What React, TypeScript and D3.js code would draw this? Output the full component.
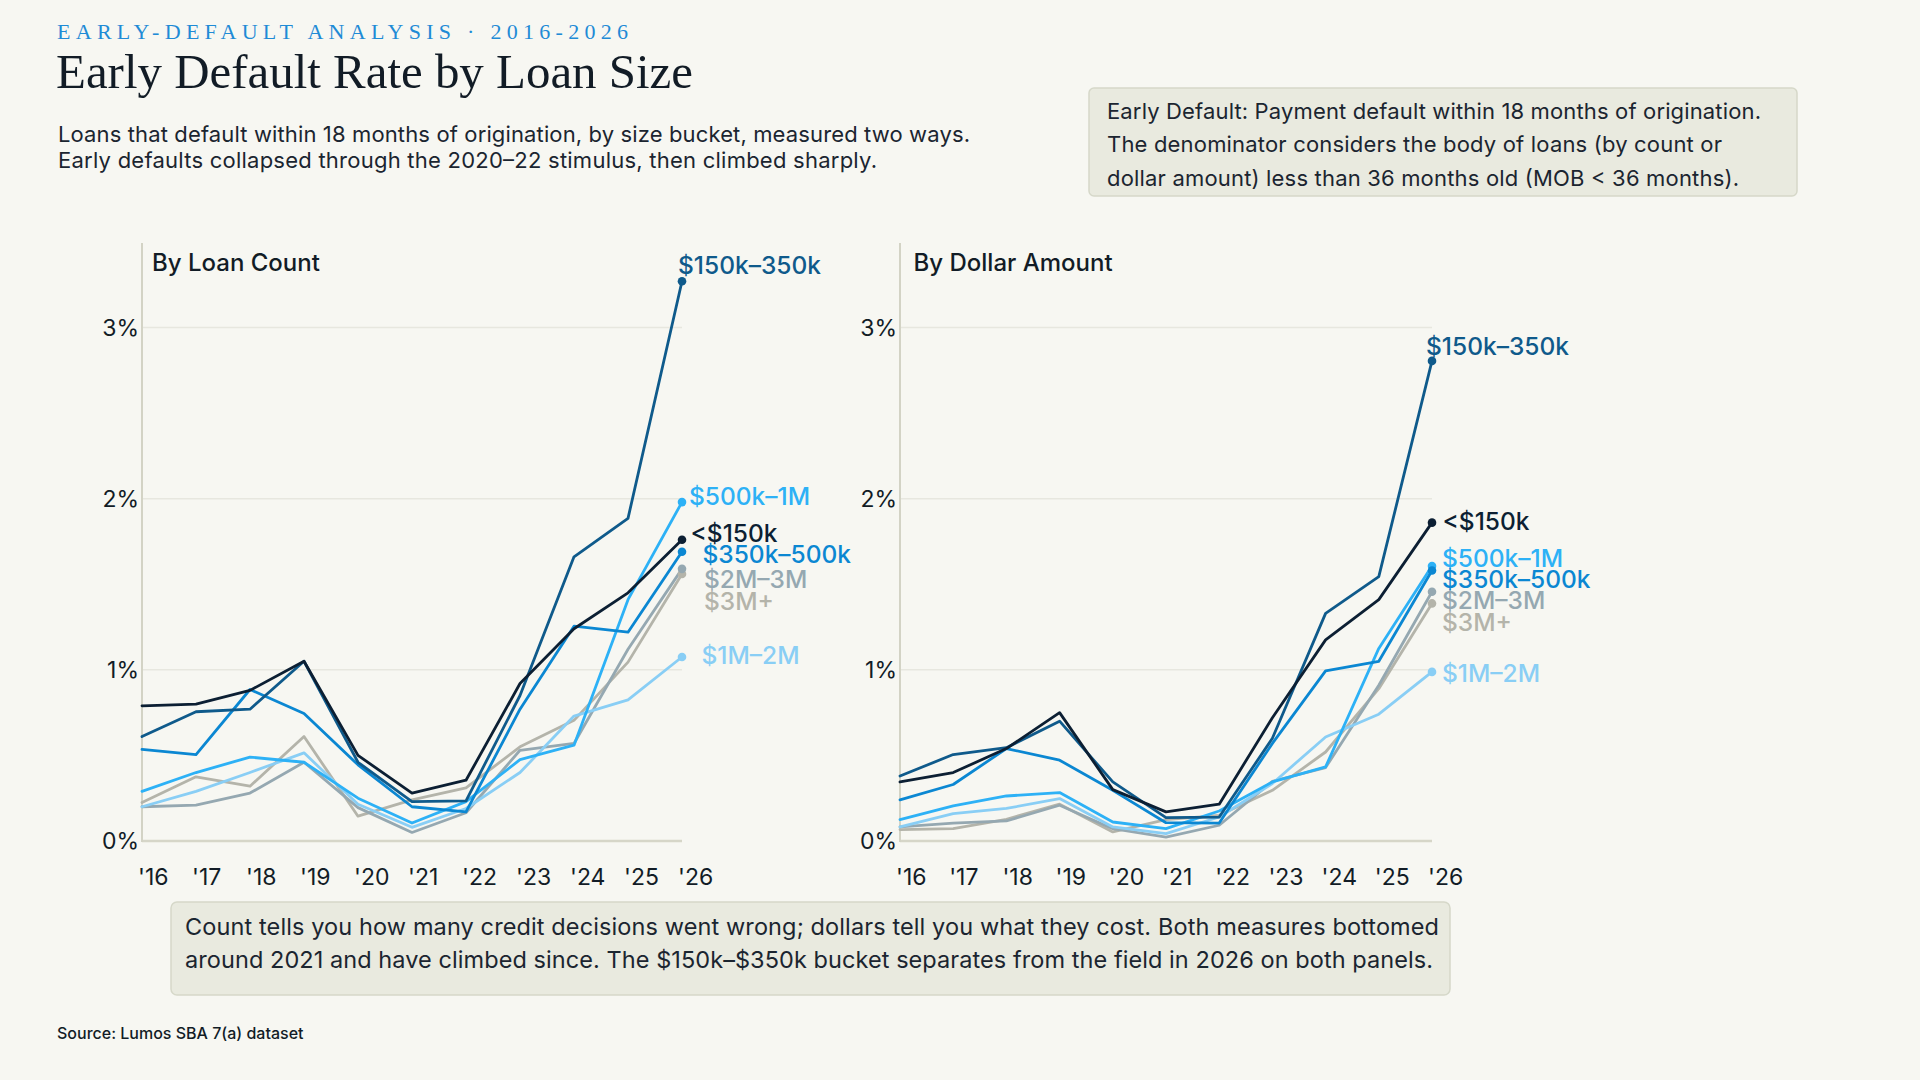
import React from 'react';
import * as d3 from 'd3';

// ---- data -------------------------------------------------------------
const years = [2016, 2017, 2018, 2019, 2020, 2021, 2022, 2023, 2024, 2025, 2026];
const yearTickLabels = ["'16", "'17", "'18", "'19", "'20", "'21", "'22", "'23", "'24", "'25", "'26"];
const rateTicks = [0, 1, 2, 3];
const rateTickLabels = ['0%', '1%', '2%', '3%'];

const buckets = ['<$150k', '$150k–350k', '$350k–500k', '$500k–1M', '$1M–2M', '$2M–3M', '$3M+'];

// Early default rate (%), by loan count
const countUnder150k = [0.79, 0.8, 0.88, 1.05, 0.5, 0.28, 0.355, 0.92, 1.24, 1.45, 1.76];
const count150to350k = [0.61, 0.755, 0.77, 1.05, 0.46, 0.23, 0.235, 0.85, 1.66, 1.885, 3.27];
const count350to500k = [0.535, 0.505, 0.885, 0.745, 0.445, 0.2, 0.17, 0.77, 1.255, 1.22, 1.69];
const count500kTo1M = [0.29, 0.4, 0.49, 0.46, 0.25, 0.105, 0.23, 0.475, 0.56, 1.41, 1.98];
const count1to2M = [0.2, 0.29, 0.4, 0.515, 0.215, 0.08, 0.19, 0.4, 0.73, 0.825, 1.075];
const count2to3M = [0.2, 0.21, 0.28, 0.46, 0.195, 0.05, 0.165, 0.53, 0.57, 1.12, 1.59];
const count3MPlus = [0.225, 0.375, 0.32, 0.61, 0.145, 0.24, 0.31, 0.55, 0.705, 1.045, 1.56];

// Early default rate (%), by dollar amount
const dollarUnder150k = [0.345, 0.4, 0.54, 0.75, 0.3, 0.17, 0.215, 0.72, 1.175, 1.41, 1.86];
const dollar150to350k = [0.38, 0.505, 0.545, 0.7, 0.345, 0.137, 0.14, 0.6, 1.33, 1.545, 2.805];
const dollar350to500k = [0.24, 0.33, 0.54, 0.472, 0.296, 0.107, 0.105, 0.57, 0.994, 1.05, 1.58];
const dollar500kTo1M = [0.125, 0.205, 0.263, 0.283, 0.111, 0.072, 0.175, 0.345, 0.433, 1.125, 1.606];
const dollar1to2M = [0.082, 0.16, 0.19, 0.248, 0.082, 0.043, 0.14, 0.336, 0.608, 0.741, 0.988];
const dollar2to3M = [0.082, 0.105, 0.117, 0.209, 0.072, 0.023, 0.092, 0.349, 0.429, 0.91, 1.456];
const dollar3MPlus = [0.067, 0.072, 0.127, 0.215, 0.053, 0.125, 0.15, 0.296, 0.52, 0.89, 1.388];

const countSeries = [countUnder150k, count150to350k, count350to500k, count500kTo1M, count1to2M, count2to3M, count3MPlus];
const dollarSeries = [dollarUnder150k, dollar150to350k, dollar350to500k, dollar500kTo1M, dollar1to2M, dollar2to3M, dollar3MPlus];

// ---- styles -------------------------------------------------------------
const bucketColors: Record<string, string> = {
  '<$150k': '#0c1f33',
  '$150k–350k': '#0f5a8b',
  '$350k–500k': '#0b87d2',
  '$500k–1M': '#2db1f6',
  '$1M–2M': '#89cef5',
  '$2M–3M': '#95a8b1',
  '$3M+': '#b4b4aa',
};
// draw order: lighter series underneath
const drawOrder = ['$3M+', '$2M–3M', '$1M–2M', '$500k–1M', '$350k–500k', '$150k–350k', '<$150k'];

const SANS = "Inter, 'Noto Sans', 'DejaVu Sans', sans-serif";
const SERIF = "'Liberation Serif', 'DejaVu Serif', serif";
const INK = '#121c26';
const BODY = '#1b2530';
const BG = '#f7f7f2';

// end-label offsets relative to each series' final point (dx, baseline dy)
const countLabelNudge: Record<string, [number, number]> = {
  '$150k–350k': [-4, -7],
  '$500k–1M': [7, 3],
  '<$150k': [8.5, 2],
  '$350k–500k': [20.5, 11],
  '$2M–3M': [22, 19],
  '$3M+': [22, 36],
  '$1M–2M': [19.5, 7.5],
};
const dollarLabelNudge: Record<string, [number, number]> = {
  '$150k–350k': [-6, -6],
  '<$150k': [10.5, 7.5],
  '$500k–1M': [10, 1],
  '$350k–500k': [10, 17.6],
  '$2M–3M': [10, 17.6],
  '$3M+': [10, 27.7],
  '$1M–2M': [10, 10],
};

type PanelProps = {
  title: string;
  titleX: number;
  left: number;
  right: number;
  series: number[][];
  nudge: Record<string, [number, number]>;
};

function Panel({ title, titleX, left, right, series, nudge }: PanelProps) {
  const x = d3.scaleLinear().domain([years[0], years[years.length - 1]]).range([left, right]);
  const y = d3.scaleLinear().domain([0, 3]).range([841, 327.5]);
  const line = d3
    .line<number>()
    .x((_, i) => x(years[i]))
    .y((d) => y(d));

  const byName: Record<string, number[]> = {};
  buckets.forEach((b, i) => (byName[b] = series[i]));
  const last = years.length - 1;

  return (
    <g>
      {/* grid */}
      {rateTicks.map((t, i) => (
        <g key={t}>
          <line
            x1={left}
            x2={right}
            y1={y(t)}
            y2={y(t)}
            stroke={t === 0 ? '#d6d6c8' : '#e7e7df'}
            strokeWidth={t === 0 ? 2.5 : 1.5}
          />
          <text
            x={left - 3}
            y={y(t)}
            dy="0.36em"
            textAnchor="end"
            fontFamily={SANS}
            fontSize={23}
            fill={INK}
          >
            {rateTickLabels[i]}
          </text>
        </g>
      ))}
      <line x1={left} x2={left} y1={243} y2={842} stroke="#d3d3c5" strokeWidth={2} />
      {/* x ticks */}
      {years.map((yr, i) => (
        <text key={yr} x={x(yr) - 4} y={885} fontFamily={SANS} fontSize={23} fill={INK}>
          {yearTickLabels[i]}
        </text>
      ))}
      <text x={titleX} y={271} fontFamily={SANS} fontSize={24} fontWeight={500} fill={INK}>
        {title}
      </text>
      {/* lines */}
      {drawOrder.map((b) => (
        <path
          key={b}
          d={line(byName[b]) || ''}
          fill="none"
          stroke={bucketColors[b]}
          strokeWidth={2.8}
          strokeLinejoin="round"
          strokeLinecap="round"
        />
      ))}
      {drawOrder.map((b) => (
        <circle key={b} cx={x(years[last])} cy={y(byName[b][last])} r={4.3} fill={bucketColors[b]} />
      ))}
      {/* end labels */}
      {drawOrder.map((b) => (
        <text
          key={b}
          x={x(years[last]) + nudge[b][0]}
          y={y(byName[b][last]) + nudge[b][1]}
          fontFamily={SANS}
          fontSize={24.5}
          fontWeight={500}
          fill={bucketColors[b]}
        >
          {b}
        </text>
      ))}
    </g>
  );
}

export default function App() {
  return (
    <svg
      width={1920}
      height={1080}
      viewBox="0 0 1920 1080"
      style={{ position: 'absolute', left: 0, top: 0, display: 'block' }}
    >
      <rect x={0} y={0} width={1920} height={1080} fill={BG} />

      {/* header */}
      <text x={57} y={39} fontFamily={SERIF} fontSize={22} fill="#1f8bd6" textLength={571} lengthAdjust="spacing">
        EARLY-DEFAULT ANALYSIS · 2016-2026
      </text>
      <text x={56} y={88} fontFamily={SERIF} fontSize={49} fill={INK} textLength={637} lengthAdjust="spacingAndGlyphs">
        Early Default Rate by Loan Size
      </text>
      <text fontFamily={SANS} fontSize={22} fill={BODY} lengthAdjust="spacingAndGlyphs">
        <tspan x={58} y={141.5} textLength={912}>
          Loans that default within 18 months of origination, by size bucket, measured two ways.
        </tspan>
        <tspan x={58} y={168.3} textLength={819}>
          Early defaults collapsed through the 2020–22 stimulus, then climbed sharply.
        </tspan>
      </text>

      {/* definition box */}
      <rect x={1089} y={88} width={708} height={108} rx={5} fill="#e9eadf" stroke="#d6d8c9" strokeWidth={1.5} />
      <text fontFamily={SANS} fontSize={22} fill={BODY} lengthAdjust="spacingAndGlyphs">
        <tspan x={1107} y={118.5} textLength={654}>
          Early Default: Payment default within 18 months of origination.
        </tspan>
        <tspan x={1107} y={152} textLength={615}>
          The denominator considers the body of loans (by count or
        </tspan>
        <tspan x={1107} y={186} textLength={632}>
          dollar amount) less than 36 months old (MOB &lt; 36 months).
        </tspan>
      </text>

      <Panel title="By Loan Count" titleX={152} left={142} right={682} series={countSeries} nudge={countLabelNudge} />
      <Panel title="By Dollar Amount" titleX={913.5} left={900} right={1432} series={dollarSeries} nudge={dollarLabelNudge} />

      {/* takeaway box */}
      <rect x={171} y={902} width={1279} height={93} rx={6} fill="#e9eadf" stroke="#d6d8c9" strokeWidth={1.5} />
      <text fontFamily={SANS} fontSize={23.5} fill={BODY} lengthAdjust="spacingAndGlyphs">
        <tspan x={185} y={935} textLength={1254}>
          Count tells you how many credit decisions went wrong; dollars tell you what they cost. Both measures bottomed
        </tspan>
        <tspan x={185} y={968} textLength={1248}>
          around 2021 and have climbed since. The $150k–$350k bucket separates from the field in 2026 on both panels.
        </tspan>
      </text>

      <text x={57} y={1039} fontFamily={SANS} fontSize={16} fontWeight={500} fill={INK}>
        Source: Lumos SBA 7(a) dataset
      </text>
    </svg>
  );
}
